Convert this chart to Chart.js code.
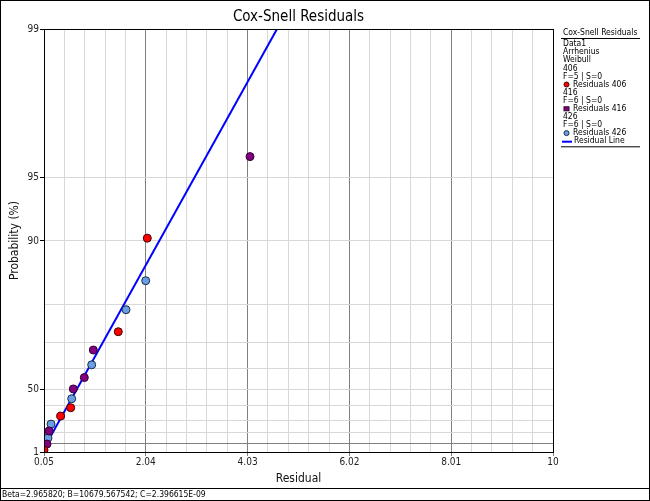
<!DOCTYPE html>
<html><head><meta charset="utf-8">
<script src="https://cdn.jsdelivr.net/npm/chart.js@4.4.0/dist/chart.umd.min.js"></script>
<style>html,body{margin:0;padding:0;background:#fff}#wrap{width:650px;height:501px;position:relative}canvas{display:block}</style>
</head><body><div id="wrap"><canvas id="c" width="650" height="501"></canvas></div>
<script>
// ---- data ----
const chartTitle = 'Cox-Snell Residuals';
const xAxisTitle = 'Residual';
const yAxisTitle = 'Probability (%)';
const xTickLabels = ['0.05', '2.04', '4.03', '6.02', '8.01', '10'];
const xMinorPerMajor = 5;
const yTickLabels = ['1', '50', '90', '95', '99'];
const yGridPercents = [1, 10, 20, 30, 40, 50, 60, 70, 80, 90, 95, 99];
const yDarkGrid = [10];

const res406X = [0.05, 0.376, 0.572, 1.502, 2.069];
const res406P = [3.1, 33.0, 38.8, 73.2, 90.3];
const res416X = [0.109, 0.148, 0.623, 0.838, 1.014, 4.077];
const res416P = [9.2, 21.2, 50.1, 55.9, 67.3, 96.0];
const res426X = [0.128, 0.187, 0.591, 0.982, 1.653, 2.038];
const res426P = [15.0, 26.9, 44.5, 61.6, 78.9, 84.6];
const lineX = [0.05, 4.605];
const lineP = [4.88, 99.0];

const legendTitle = 'Cox-Snell Residuals';
const legendHeader = ['Data1', 'Arrhenius', 'Weibull'];
const groupNames = ['406', '416', '426'];
const groupFS = ['F=5 | S=0', 'F=6 | S=0', 'F=6 | S=0'];
const footerText = 'Beta=2.965820; B=10679.567542; C=2.396615E-09';

// ---- helpers ----
const u = p => -Math.log(1 - p / 100);
const pts = (xs, ps) => xs.map((x, i) => ({x: x, y: u(ps[i])}));
const FONT = "'DejaVu Sans Condensed', 'Liberation Sans', sans-serif";

const xMin = parseFloat(xTickLabels[0]), xMax = parseFloat(xTickLabels[xTickLabels.length - 1]);
const nMinor = (xTickLabels.length - 1) * xMinorPerMajor;

const datasets = [
  {label: 'Residuals 406', data: pts(res406X, res406P), showLine: false, pointRadius: 4, pointBackgroundColor: '#ff0000', pointBorderColor: '#400000', pointBorderWidth: 1, pointStyle: 'circle', lmark: 'circle'},
  {label: 'Residuals 416', data: pts(res416X, res416P), showLine: false, pointRadius: 4, pointBackgroundColor: '#800080', pointBorderColor: '#300030', pointBorderWidth: 1, pointStyle: 'circle', lmark: 'rect'},
  {label: 'Residuals 426', data: pts(res426X, res426P), showLine: false, pointRadius: 4, pointBackgroundColor: '#6a9fe6', pointBorderColor: '#1a2a40', pointBorderWidth: 1, pointStyle: 'circle', lmark: 'circle'},
  {label: 'Residual Line', data: pts(lineX, lineP), showLine: true, borderColor: '#0000ff', borderWidth: 2, pointRadius: 0, lmark: 'line'}
];
// draw line beneath points
datasets[3].order = 10;

const overlay = {
  id: 'overlay',
  afterDraw(chart) {
    const ctx = chart.ctx, a = chart.chartArea;
    ctx.save();
    // plot frame
    ctx.strokeStyle = '#000'; ctx.lineWidth = 1;
    ctx.strokeRect(Math.round(a.left) + 0.5, Math.round(a.top) + 0.5, Math.round(a.right - a.left), Math.round(a.bottom - a.top));
    // title
    ctx.fillStyle = '#000';
    ctx.font = '15px ' + FONT;
    ctx.textAlign = 'center'; ctx.textBaseline = 'middle';
    ctx.fillText(chartTitle, (a.left + a.right) / 2, 17);
    // legend
    const lx = 563;
    ctx.textAlign = 'left';
    ctx.font = '8.5px ' + FONT;
    ctx.fillText(legendTitle, lx, 33);
    ctx.beginPath(); ctx.moveTo(561, 38.5); ctx.lineTo(640, 38.5); ctx.stroke();
    const lines = [];
    legendHeader.forEach(t => lines.push({t}));
    groupNames.forEach((g, i) => {
      lines.push({t: g});
      lines.push({t: groupFS[i]});
      lines.push({t: datasets[i].label, ds: datasets[i]});
    });
    lines.push({t: datasets[3].label, ds: datasets[3]});
    let y = 44;
    lines.forEach(L => {
      if (L.ds) {
        const d = L.ds;
        if (d.lmark === 'line') {
          ctx.strokeStyle = d.borderColor; ctx.lineWidth = 2;
          ctx.beginPath(); ctx.moveTo(562, y + 0.5); ctx.lineTo(572, y + 0.5); ctx.stroke();
          ctx.fillStyle = '#000';
          ctx.fillText(L.t, 574, y);
        } else {
          ctx.fillStyle = d.pointBackgroundColor; ctx.strokeStyle = d.pointBorderColor; ctx.lineWidth = 1;
          if (d.lmark === 'rect') {
            ctx.fillRect(564, y - 2, 5, 4); ctx.strokeRect(564, y - 2, 5, 4);
          } else {
            ctx.beginPath(); ctx.arc(566.5, y, 2.5, 0, Math.PI * 2); ctx.fill(); ctx.stroke();
          }
          ctx.fillStyle = '#000';
          ctx.fillText(L.t, 573, y);
        }
      } else {
        ctx.fillStyle = '#000';
        ctx.fillText(L.t, lx, y);
      }
      y += 8.1;
    });
    ctx.strokeStyle = '#000'; ctx.lineWidth = 1;
    ctx.beginPath(); ctx.moveTo(561, y - 2.5); ctx.lineTo(640, y - 2.5); ctx.stroke();
    // footer + outer border
    ctx.beginPath(); ctx.moveTo(0, 488.5); ctx.lineTo(650, 488.5); ctx.stroke();
    ctx.font = '8.5px ' + FONT;
    ctx.fillStyle = '#000';
    ctx.fillText(footerText, 2, 495);
    ctx.strokeRect(0.5, 0.5, 649, 500);
    ctx.restore();
  }
};

new Chart(document.getElementById('c'), {
  type: 'scatter',
  data: {datasets},
  options: {
    responsive: false,
    animation: false,
    devicePixelRatio: 1,
    layout: {padding: {top: 29, right: 97, left: 0, bottom: 0}},
    plugins: {legend: {display: false}, tooltip: {enabled: false}, title: {display: false}},
    elements: {line: {tension: 0}},
    scales: {
      x: {
        type: 'linear', min: xMin, max: xMax,
        afterFit: s => { s.height = 49; },
        afterBuildTicks: s => {
          const t = [];
          for (let i = 0; i <= nMinor; i++) t.push({value: xMin + (xMax - xMin) * i / nMinor});
          s.ticks = t;
        },
        ticks: {
          autoSkip: false, maxRotation: 0, padding: 0, color: '#222',
          font: {size: 10, family: FONT},
          callback: (v, i) => (i % xMinorPerMajor === 0 ? xTickLabels[i / xMinorPerMajor] : '')
        },
        grid: {
          color: c => (c.index % xMinorPerMajor === 0 ? '#808080' : '#d8d8d8'),
          tickColor: c => (c.index % xMinorPerMajor === 0 ? '#808080' : 'rgba(0,0,0,0)'),
          tickLength: 4, lineWidth: 1
        },
        border: {display: true, color: '#000'},
        title: {display: true, text: xAxisTitle, color: '#111', font: {size: 12, family: FONT}, padding: {top: 0, bottom: 15}}
      },
      y: {
        type: 'linear', min: u(yGridPercents[0]), max: u(yGridPercents[yGridPercents.length - 1]),
        afterFit: s => { s.width = 44; },
        afterBuildTicks: s => { s.ticks = yGridPercents.map(p => ({value: u(p)})); },
        ticks: {
          autoSkip: false, padding: 1, color: '#222',
          font: {size: 10, family: FONT},
          callback: (v, i) => { const s = String(yGridPercents[i]); return yTickLabels.includes(s) ? s : ''; }
        },
        grid: {
          color: c => (yDarkGrid.includes(yGridPercents[c.index]) ? '#808080' : '#d8d8d8'),
          tickColor: c => (yTickLabels.includes(String(yGridPercents[c.index])) ? '#000' : 'rgba(0,0,0,0)'),
          tickLength: 4, lineWidth: 1
        },
        border: {display: true, color: '#000'},
        title: {display: true, text: yAxisTitle, color: '#111', font: {size: 12, family: FONT}, padding: {top: 8, bottom: 0}}
      }
    }
  },
  plugins: [overlay]
});
</script>
</body></html>
